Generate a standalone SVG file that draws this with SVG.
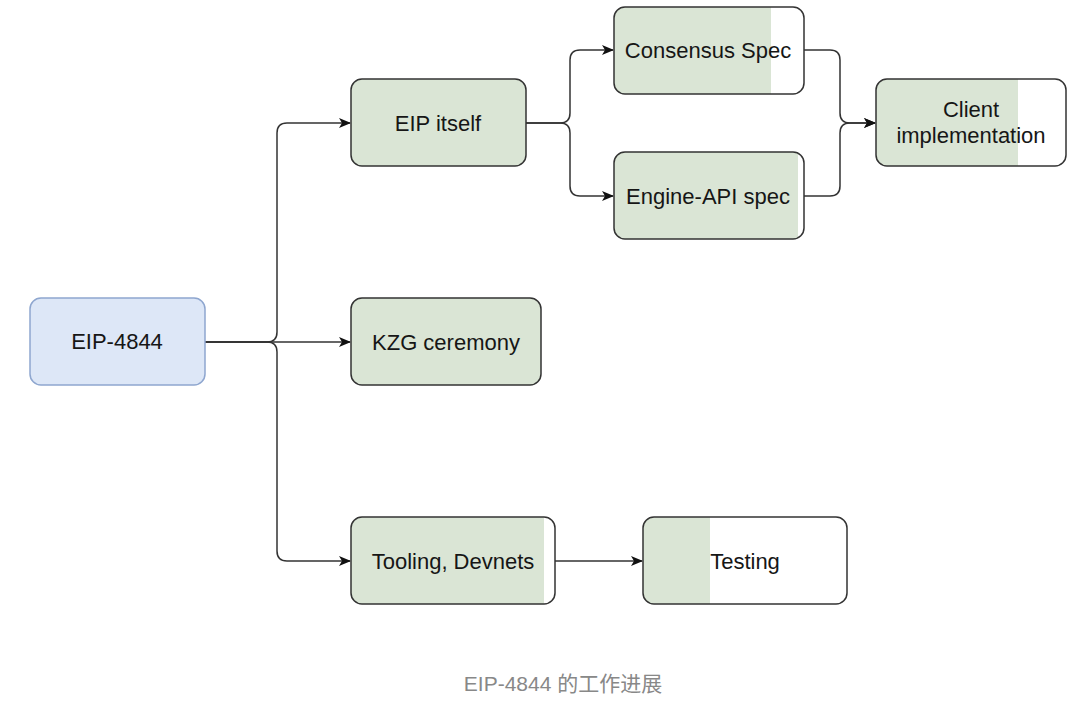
<svg xmlns="http://www.w3.org/2000/svg" width="1080" height="702" viewBox="0 0 1080 702">
<style>
.box{fill:none;stroke:#333;stroke-width:1.5}
.g{fill:#dae5d5}
.t{font-family:"Liberation Sans",Arial,sans-serif;font-size:22px;fill:#161616;text-anchor:middle;dominant-baseline:central}
.c{fill:none;stroke:#333;stroke-width:1.5}
.cap{font-family:"Liberation Sans","Noto Sans CJK SC",sans-serif;font-size:21px;fill:#888;text-anchor:middle}
</style>
<defs>
<marker id="ar" viewBox="0 0 12 10" refX="11" refY="5" markerWidth="12" markerHeight="10" markerUnits="userSpaceOnUse" orient="auto">
<path d="M0,0 L12,5 L0,10 L3,5 Z" fill="#111"/>
</marker>
<clipPath id="cCons"><rect x="614" y="7" width="190" height="87" rx="11"/></clipPath>
<clipPath id="cEng"><rect x="614" y="152" width="190" height="87" rx="11"/></clipPath>
<clipPath id="cCli"><rect x="876" y="79" width="190" height="87" rx="11"/></clipPath>
<clipPath id="cTool"><rect x="351" y="517" width="204" height="87" rx="11"/></clipPath>
<clipPath id="cTest"><rect x="643" y="517" width="204" height="87" rx="11"/></clipPath>
</defs>
<rect width="1080" height="702" fill="#fff"/>
<g id="connectors">
<path class="c" d="M205,342 H267 Q277,342 277,332 V133 Q277,123 287,123 H350" marker-end="url(#ar)"/>
<path class="c" d="M205,342 H350" marker-end="url(#ar)"/>
<path class="c" d="M205,342 H267 Q277,342 277,352 V551 Q277,561 287,561 H350" marker-end="url(#ar)"/>
<path class="c" d="M526,123 H560 Q570,123 570,113 V60 Q570,50 580,50 H613" marker-end="url(#ar)"/>
<path class="c" d="M526,123 H560 Q570,123 570,133 V186 Q570,196 580,196 H613" marker-end="url(#ar)"/>
<path class="c" d="M804,50 H830 Q840,50 840,60 V113 Q840,123 850,123 H875" marker-end="url(#ar)"/>
<path class="c" d="M804,196 H830 Q840,196 840,186 V133 Q840,123 850,123 H875" marker-end="url(#ar)"/>
<path class="c" d="M555,561 H642" marker-end="url(#ar)"/>
</g>
<g id="eip4844">
<rect x="30" y="298" width="175" height="87" rx="11" fill="#dde7f7" stroke="#8ea6cf" stroke-width="1.5"/>
<text class="t" x="117" y="341">EIP-4844</text>
</g>
<g id="eip-itself">
<rect x="351" y="79" width="175" height="87" rx="11" class="g"/>
<rect x="351" y="79" width="175" height="87" rx="11" class="box"/>
<text class="t" x="438" y="123">EIP itself</text>
</g>
<g id="kzg">
<rect x="351" y="298" width="190" height="87" rx="11" class="g"/>
<rect x="351" y="298" width="190" height="87" rx="11" class="box"/>
<text class="t" x="446" y="342">KZG ceremony</text>
</g>
<g id="tooling">
<rect x="351" y="517" width="193" height="87" class="g" clip-path="url(#cTool)"/>
<rect x="351" y="517" width="204" height="87" rx="11" class="box"/>
<text class="t" x="453" y="561">Tooling, Devnets</text>
</g>
<g id="testing">
<rect x="643" y="517" width="67" height="87" class="g" clip-path="url(#cTest)"/>
<rect x="643" y="517" width="204" height="87" rx="11" class="box"/>
<text class="t" x="745" y="561">Testing</text>
</g>
<g id="consensus">
<rect x="614" y="7" width="157" height="87" class="g" clip-path="url(#cCons)"/>
<rect x="614" y="7" width="190" height="87" rx="11" class="box"/>
<text class="t" x="708" y="50">Consensus Spec</text>
</g>
<g id="engine">
<rect x="614" y="152" width="184" height="87" class="g" clip-path="url(#cEng)"/>
<rect x="614" y="152" width="190" height="87" rx="11" class="box"/>
<text class="t" x="708" y="196">Engine-API spec</text>
</g>
<g id="client">
<rect x="876" y="79" width="142" height="87" class="g" clip-path="url(#cCli)"/>
<rect x="876" y="79" width="190" height="87" rx="11" class="box"/>
<text class="t" x="971" y="109">Client</text>
<text class="t" x="971" y="135">implementation</text>
</g>
<text class="cap" x="563" y="691">EIP-4844 的工作进展</text>
</svg>
